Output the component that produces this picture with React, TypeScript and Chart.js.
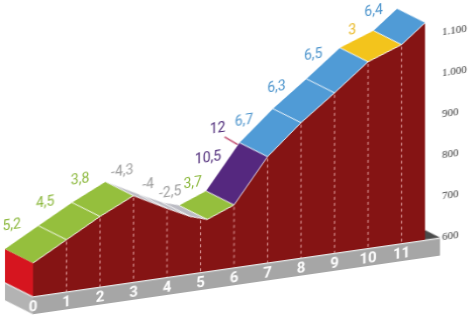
import { useEffect, useRef } from "react";
import { Chart, registerables } from "chart.js";

Chart.register(...registerables);

// ---- data ----
// distance (km) of every break-point of the profile
const KM = [0, 1, 2, 3, 4, 4.7, 5.2, 6, 7, 8, 9, 10, 11, 11.7];
// altitude (m) at every break-point
const ALTITUDE = [681, 726, 771, 810, 767, 739, 726, 752, 858, 929, 990, 1054, 1084, 1129];
// gradient (%) of each segment between consecutive break-points
const GRADIENT = [5.2, 4.5, 3.8, -4.3, -4, -2.5, 3.7, 10.5, 6.7, 6.3, 6.5, 3, 6.4];
// km along the profile where each gradient label sits
const GRADIENT_LABEL_KM = [0.2, 1.2, 2.24, 3.5, 4.27, 4.93, 5.6, 6.06, 7.13, 8.1, 9.2, 10.36, 11.0];
// maximum gradient and the km it points to
const MAX_GRADIENT = 12;
const MAX_GRADIENT_KM = 7;
// axis ticks
const KM_TICKS = [0, 1, 2, 3, 4, 5, 6, 7, 8, 9, 10, 11];
const ALT_TICKS = [600, 700, 800, 900, 1000, 1100];
const BASE_ALT = 600;
const TOP_ALT = 1150;

// ---- styles ----
const GREEN = "#95bf3d";
const GREY = "#bcbcc4";
const PURPLE = "#55287f";
const BLUE = "#509bd6";
const YELLOW = "#f3c41c";
const SEG_COLORS = [GREEN, GREEN, GREEN, GREY, GREY, GREY, GREEN, PURPLE, BLUE, BLUE, BLUE, YELLOW, BLUE];
const LABEL_COLORS = [
  "#8ab73a", "#8ab73a", "#8ab73a", "#9c9c9c", "#9c9c9c", "#9c9c9c", "#8ab73a",
  "#4b2777", "#4a93cc", "#4a93cc", "#4a93cc", "#e8b519", "#4a93cc",
];
const LABEL_LIFT = [19, 18, 17.5, 16, 12, 11, 15, 30, 17, 18, 17, 11, 19];
const FACE = "#851414";
const SIDE = "#d6151f";
const DX = -28; // depth offset of the back edge (px)
const DY = -18;
const BASE_H = 18; // thickness of grey plinth
const BASE_EXT = 15; // plinth sticks out to the right
const LABEL_FONT = '14px "Liberation Sans Narrow", "Roboto", sans-serif';

function altAt(km: number): number {
  for (let i = 0; i < KM.length - 1; i++) {
    if (km >= KM[i] && km <= KM[i + 1]) {
      const t = (km - KM[i]) / (KM[i + 1] - KM[i]);
      return ALTITUDE[i] + t * (ALTITUDE[i + 1] - ALTITUDE[i]);
    }
  }
  return ALTITUDE[ALTITUDE.length - 1];
}

function poly(ctx: CanvasRenderingContext2D, pts: number[][], color: string) {
  ctx.beginPath();
  ctx.moveTo(pts[0][0], pts[0][1]);
  for (let i = 1; i < pts.length; i++) ctx.lineTo(pts[i][0], pts[i][1]);
  ctx.closePath();
  ctx.fillStyle = color;
  ctx.fill();
}

const profilePlugin = {
  id: "profile3d",
  beforeDraw(chart: any) {
    const { ctx, scales } = chart;
    const xs = scales.x;
    const ys = scales.y;
    const x0 = xs.getPixelForValue(KM[0]);
    const xR = xs.getPixelForValue(KM[KM.length - 1]);
    const yb = ys.getPixelForValue(BASE_ALT);
    const yTop0 = ys.getPixelForValue(ALTITUDE[0]);
    ctx.save();
    // top of plinth visible at the right end
    poly(ctx, [[xR, yb], [xR + BASE_EXT, yb], [xR + BASE_EXT + DX, yb + DY], [xR + DX, yb + DY]], "#4a4a4a");
    // plinth front and left side
    poly(ctx, [[x0, yb], [xR + BASE_EXT, yb], [xR + BASE_EXT, yb + BASE_H], [x0, yb + BASE_H]], "#a6a6a6");
    poly(ctx, [[x0, yb], [x0, yb + BASE_H], [x0 + DX, yb + BASE_H + DY], [x0 + DX, yb + DY]], "#b3b3b3");
    // light edge on top of the plinth
    ctx.strokeStyle = "rgba(235,235,235,0.9)";
    ctx.lineWidth = 1.5;
    ctx.beginPath();
    ctx.moveTo(x0 + DX, yb + DY + 0.5);
    ctx.lineTo(x0, yb + 0.5);
    ctx.lineTo(xR + BASE_EXT, yb + 0.5);
    ctx.stroke();
    // left red side of the block
    poly(ctx, [[x0, yTop0], [x0, yb], [x0 + DX, yb + DY], [x0 + DX, yTop0 + DY]], SIDE);
    ctx.restore();
  },
  afterDatasetsDraw(chart: any) {
    const { ctx, scales } = chart;
    const xs = scales.x;
    const ys = scales.y;
    const yb = ys.getPixelForValue(BASE_ALT);
    const pts = KM.map((k, i) => [xs.getPixelForValue(k), ys.getPixelForValue(ALTITUDE[i])]);
    ctx.save();
    // dashed km lines
    ctx.setLineDash([3, 3]);
    ctx.strokeStyle = "rgba(245,190,190,0.85)";
    ctx.lineWidth = 1;
    KM_TICKS.slice(1).forEach((k) => {
      const px = xs.getPixelForValue(k);
      ctx.beginPath();
      ctx.moveTo(px, ys.getPixelForValue(altAt(k)) + 2);
      ctx.lineTo(px, yb);
      ctx.stroke();
    });
    ctx.setLineDash([]);
    // top band
    for (let i = 0; i < pts.length - 1; i++) {
      const a = pts[i];
      const b = pts[i + 1];
      poly(ctx, [a, b, [b[0] + DX, b[1] + DY], [a[0] + DX, a[1] + DY]], SEG_COLORS[i]);
    }
    ctx.strokeStyle = "rgba(255,255,255,0.8)";
    ctx.lineWidth = 1;
    for (let i = 1; i < pts.length - 1; i++) {
      ctx.beginPath();
      ctx.moveTo(pts[i][0], pts[i][1]);
      ctx.lineTo(pts[i][0] + DX, pts[i][1] + DY);
      ctx.stroke();
    }
    ctx.beginPath();
    pts.forEach((p, i) => (i ? ctx.lineTo(p[0], p[1]) : ctx.moveTo(p[0], p[1])));
    ctx.stroke();
    // gradient labels
    ctx.font = LABEL_FONT;
    ctx.textAlign = "center";
    ctx.textBaseline = "middle";
    GRADIENT.forEach((g, i) => {
      const k = GRADIENT_LABEL_KM[i];
      const px = xs.getPixelForValue(k) + DX;
      const py = ys.getPixelForValue(altAt(k)) + DY - LABEL_LIFT[i];
      ctx.fillStyle = LABEL_COLORS[i];
      ctx.fillText(String(g).replace(".", ","), px, py);
    });
    // maximum gradient callout
    const cx = xs.getPixelForValue(MAX_GRADIENT_KM) + DX;
    const cy = ys.getPixelForValue(altAt(MAX_GRADIENT_KM)) + DY;
    ctx.strokeStyle = "#b8325a";
    ctx.lineWidth = 1.2;
    ctx.beginPath();
    ctx.moveTo(cx - 2, cy + 1.5);
    ctx.lineTo(cx - 15, cy - 8);
    ctx.stroke();
    ctx.fillStyle = "#4b2777";
    ctx.fillText(String(MAX_GRADIENT), cx - 22, cy - 17);
    ctx.restore();
  },
};

export default function App() {
  const ref = useRef<HTMLCanvasElement>(null);
  useEffect(() => {
    const canvas = ref.current!;
    const chart = new Chart(canvas, {
      type: "line",
      data: {
        datasets: [
          {
            data: KM.map((k, i) => ({ x: k, y: ALTITUDE[i] })),
            fill: { value: BASE_ALT },
            backgroundColor: FACE,
            borderColor: "rgba(0,0,0,0)",
            borderWidth: 0,
            pointRadius: 0,
            tension: 0,
          },
        ],
      },
      options: {
        responsive: false,
        animation: false,
        devicePixelRatio: 1,
        events: [],
        layout: { padding: { left: 33, top: 75.5, right: 0, bottom: 0 } },
        plugins: { legend: { display: false }, tooltip: { enabled: false } },
        scales: {
          x: {
            type: "linear",
            min: KM[0],
            max: KM[KM.length - 1],
            grid: { display: false, drawTicks: false },
            border: { display: false },
            afterBuildTicks: (s: any) => {
              s.ticks = KM_TICKS.map((v) => ({ value: v }));
            },
            afterFit: (s: any) => {
              s.height = 30;
            },
            ticks: {
              padding: 2,
              maxRotation: 0,
              autoSkip: false,
              color: "#ffffff",
              font: { family: '"Liberation Sans Narrow", "Roboto", sans-serif', size: 15, weight: "bold" },
              callback: (v: any) => String(v),
            },
          },
          y: {
            type: "linear",
            position: "right",
            min: BASE_ALT,
            max: TOP_ALT,
            grid: { display: false, drawTicks: false },
            border: { display: false },
            afterBuildTicks: (s: any) => {
              s.ticks = ALT_TICKS.map((v) => ({ value: v }));
            },
            afterFit: (s: any) => {
              s.width = 45;
            },
            ticks: {
              padding: 17,
              color: "#333333",
              font: { family: '"Liberation Serif", serif', size: 11 },
              callback: (v: any) =>
                v >= 1000 ? `${Math.floor(v / 1000)}.${String(v % 1000).padStart(3, "0")}` : String(v),
            },
          },
        },
      },
      plugins: [profilePlugin],
    } as any);
    return () => chart.destroy();
  }, []);
  return (
    <div style={{ position: "absolute", left: 0, top: 0, width: 470, height: 331, overflow: "hidden", background: "#fff" }}>
      <canvas
        ref={ref}
        width={470}
        height={331}
        style={{ display: "block", transform: "skewY(-8.2deg)", transformOrigin: "0 0" }}
      />
    </div>
  );
}
